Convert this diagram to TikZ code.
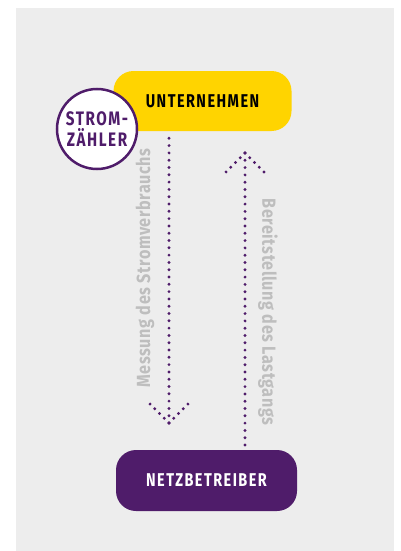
\documentclass[tikz,border=0pt]{standalone}
\usepackage{fontspec}
\setmainfont{Fira Sans}
\newfontfamily\condfont[FakeStretch=0.78,LetterSpace=8]{Fira Sans}
\newfontfamily\labelfont[FakeStretch=0.85,LetterSpace=3]{Fira Sans}
\definecolor{yel}{HTML}{FFD400}
\definecolor{purp}{HTML}{4F1C6A}
\definecolor{bgc}{HTML}{EDEDED}
\definecolor{lblgray}{HTML}{BEBEBE}
\tikzset{
  box/.style={rounded corners=20pt, minimum width=178pt, minimum height=60pt, inner sep=0pt,
    font=\condfont\bfseries\fontsize{18.5}{21}\selectfont},
  dotline/.style={draw=purp, line width=3.2pt, line cap=round, dash pattern=on 0pt off 7.3pt},
  wingline/.style={draw=purp, line width=3.2pt, line cap=round, dash pattern=on 0pt off 6.7pt},
  lbl/.style={text=lblgray, inner sep=0pt, font=\labelfont\bfseries\fontsize{19}{22}\selectfont}
}
\begin{document}
\begin{tikzpicture}[x=1pt,y=-1pt]
\useasboundingbox (0,0) rectangle (400,551);
\fill[bgc] (16,8) rectangle (394,551);
\node[box, fill=yel, text=black] (un) at (202.5,101) {UNTERNEHMEN};
\node[box, fill=purp, text=white, minimum width=181pt, minimum height=61pt] (nb) at (206.5,480.5) {NETZBETREIBER};
\node[circle, draw=purp, line width=2.5pt, fill=white, minimum size=80pt, inner sep=0pt, align=center,
  text=purp, font=\condfont\bfseries\fontsize{19.5}{21}\selectfont] (sz) at (97,129) {STROM-\\ZÄHLER};
% down arrow
\coordinate (dt) at (169,423);
\coordinate (dl) at (150,404);
\coordinate (dr) at (188,404);
\draw[dotline] (dt) -- (dt |- un.south);
\draw[wingline] (dt) -- (dl);
\draw[wingline] (dt) -- (dr);
% up arrow
\coordinate (ut) at (245,153);
\coordinate (ul) at (226,172);
\coordinate (ur) at (264,172);
\draw[dotline] (ut) -- (ut |- nb.north);
\draw[wingline] (ut) -- (ul);
\draw[wingline] (ut) -- (ur);
% labels
\node[lbl, rotate=90] (m) at (145,268) {Messung des Stromverbrauchs};
\node[lbl, rotate=-90] (b) at (268,312) {Bereitstellung des Lastgangs};
\end{tikzpicture}
\end{document}
